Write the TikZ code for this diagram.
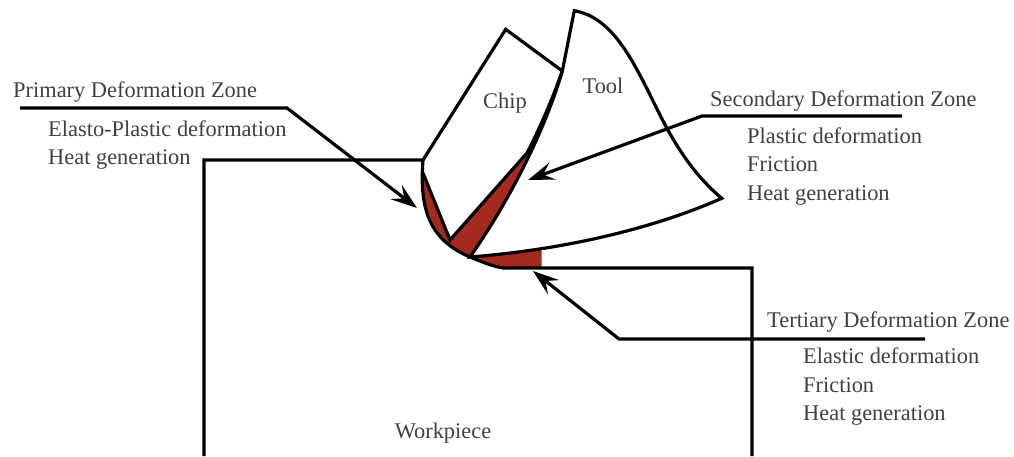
\documentclass[tikz,border=0pt]{standalone}
\usepackage{fontspec}
\setmainfont{Liberation Serif}
\usetikzlibrary{arrows.meta}
\definecolor{zonered}{RGB}{165,42,30}
\definecolor{labelgray}{RGB}{64,64,64}
\begin{document}
\begin{tikzpicture}[x=1pt,y=-1pt,
  outline/.style={line width=3.2pt,line join=miter,black},
  leader/.style={line width=3.2pt,black,-{Stealth[length=26pt,width=18pt,inset=10pt]}},
  label/.style={anchor=base west,inner sep=0pt,text=labelgray,font=\fontsize{22.4}{27}\selectfont},
  partname/.style={anchor=base,inner sep=0pt,text=labelgray,font=\fontsize{22.4}{27}\selectfont}]
\useasboundingbox (0,0) rectangle (1014,456);

% key points of the cutting geometry
\coordinate (corner) at (423,160);
\coordinate (tip) at (470,257);
\coordinate (wtop) at (503,268);
\coordinate (pz0) at (423,173);
\coordinate (chipv) at (450,240);
\coordinate (rakejoin) at (562.3,71);
\coordinate (chipinner) at (527,153);
\coordinate (chiptop) at (505.7,29.3);
\coordinate (tooltop) at (574.3,10.7);
\coordinate (toolback) at (721.7,198.3);

% primary and secondary deformation zones
\fill[zonered] (pz0) -- (chipv) -- (chipinner)
  .. controls (540,128) and (552,100) .. (rakejoin)
  .. controls (545,130) and (510,200) .. (tip)
  .. controls (430,240) and (421,200) .. (pz0) -- cycle;

% tertiary deformation zone
\begin{scope}
  \clip (0,0) rectangle (541.7,456);
  \fill[zonered] (tip) .. controls (482,262) and (492,266) .. (wtop)
    -- (721.7,268) -- (toolback)
    .. controls (650,230) and (560,250) .. (tip) -- cycle;
\end{scope}

% workpiece
\draw[outline] (204,456) -- (204,160) -- (corner)
  .. controls (419,210) and (430,240) .. (tip)
  .. controls (482,262) and (492,266) .. (wtop)
  -- (752,268) -- (752,456);

% chip
\draw[outline] (corner) -- (chiptop) -- (rakejoin)
  .. controls (552,100) and (540,128) .. (chipinner)
  -- (chipv) -- (pz0);

% tool
\draw[outline] (tooltop) -- (rakejoin)
  .. controls (545,130) and (510,200) .. (tip)
  .. controls (560,250) and (650,230) .. (toolback)
  .. controls (700,180) and (680,155) .. (660,115)
  .. controls (635,65) and (615,18) .. (tooltop) -- cycle;

% part names
\node[partname] (chiplbl) at (505,108) {Chip};
\node[partname] (toollbl) at (603,93) {Tool};
\node[partname] (wplbl) at (443,438) {Workpiece};

% primary zone callout
\node[label] (ptitle) at (13,97) {Primary Deformation Zone};
\node[label] (p1) at (48,136) {Elasto-Plastic deformation};
\node[label] (p2) at (48,164) {Heat generation};
\coordinate (pstart) at (20,108);
\coordinate (pbend) at (287,108);
\coordinate (ptip) at (417,208);
\draw[leader] (pstart) -- (pbend) -- (ptip);

% secondary zone callout
\node[label] (stitle) at (710,106) {Secondary Deformation Zone};
\node[label] (s1) at (747,143) {Plastic deformation};
\node[label] (s2) at (747,171) {Friction};
\node[label] (s3) at (747,200) {Heat generation};
\coordinate (send) at (902,116);
\coordinate (sbend) at (702,116);
\coordinate (stip) at (528,180);
\draw[leader] (send) -- (sbend) -- (stip);

% tertiary zone callout
\node[label] (ttitle) at (767,327) {Tertiary Deformation Zone};
\node[label] (t1) at (803,363) {Elastic deformation};
\node[label] (t2) at (803,392) {Friction};
\node[label] (t3) at (803,420) {Heat generation};
\coordinate (tend) at (925,339);
\coordinate (tbend) at (619,339);
\coordinate (ttip) at (533,271);
\draw[leader] (tend) -- (tbend) -- (ttip);
\end{tikzpicture}
\end{document}
